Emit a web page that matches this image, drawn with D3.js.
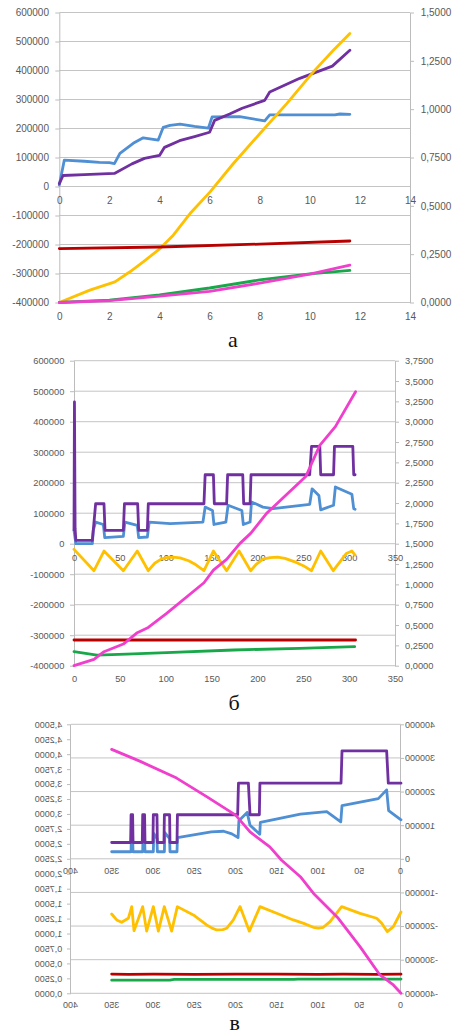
<!DOCTYPE html>
<html lang="ru">
<head>
<meta charset="utf-8">
<title>Три графика а, б, в</title>
<script src="https://d3js.org/d3.v7.min.js"></script>
<style>
  body { margin: 0; background: #fff; }
  svg { display: block; }
</style>
</head>
<body>
<div id="chart"></div>
<script>

/* Data */
/* ==== */

// panel а : x 0..14, left axis -400000..600000, right axis 0..1,5
const aXTicks = [0, 2, 4, 6, 8, 10, 12, 14];
const aLeftTicks = [-400000, -300000, -200000, -100000, 0, 100000, 200000, 300000, 400000, 500000, 600000];
const aRightTicks = [0, 0.25, 0.5, 0.75, 1, 1.25, 1.5];

const aBlue = [[0,5000],[0.2,91000],[1,87000],[1.6,83000],[2,82000],[2.2,79000],[2.42,114000],[2.95,149000],[3.35,168000],[3.95,160000],
  [4.15,204000],[4.42,211000],[4.82,215000],[5.4,207000],[5.95,201000],[6.1,240000],[7.2,241000],[8.2,226000],[8.4,247000],
  [11,247000],[11.2,250000],[11.6,249000]];
const aPurple = [[0,10000],[0.15,38000],[1,41000],[2.2,45000],[2.9,78000],[3.4,97000],[4,107000],[4.2,135000],[4.8,158000],
  [5.4,172000],[6,187000],[6.2,228000],[6.8,250000],[7.3,270000],[8.2,297000],[8.4,326000],[9.6,373000],[10.9,415000],[11.6,470000]];
const aYellow = [[0,0],[1.22,0.064],[2.22,0.107],[2.82,0.159],[3.35,0.21],[4.02,0.279],[4.55,0.348],[5.22,0.46],[6.02,0.572],
  [6.95,0.719],[8.01,0.874],[9.08,1.029],[10.14,1.193],[10.94,1.305],[11.6,1.391]];
const aRed = [[0,0.279],[4,0.287],[8,0.302],[11.6,0.318]];
const aGreen = [[0,0],[2,0.012],[4,0.04],[6,0.075],[8,0.117],[10,0.148],[11.6,0.166]];
const aMagenta = [[0,0],[2,0.01],[4,0.033],[6,0.058],[8,0.1],[10,0.147],[11.6,0.193]];

// panel б : x 0..350, left axis -400000..600000, right axis 0..3,75
const bXTicks = [0, 50, 100, 150, 200, 250, 300, 350];
const bLeftTicks = [-400000, -300000, -200000, -100000, 0, 100000, 200000, 300000, 400000, 500000, 600000];
const bRightTicks = [0, 0.25, 0.5, 0.75, 1, 1.25, 1.5, 1.75, 2, 2.25, 2.5, 2.75, 3, 3.25, 3.5, 3.75];

const bBlue = [[0,44000],[1.5,11000],[2,0],[20,0],[21,44000],[23.6,71000],[32,63000],[33.5,20000],[53.8,24000],[55.5,71000],
  [69,60000],[70.5,20000],[80,22000],[82,71000],[105,66000],[140.6,71000],[143,120000],[151,109000],[152.6,63000],[165.6,71000],
  [168,126000],[183,109000],[184.6,63000],[192,71000],[193.5,137000],[206,120000],[217,115000],[257,129000],[259.6,180000],
  [267,158000],[269,111000],[283,126000],[285,186000],[303,162000],[305,115000],[306.5,113000]];
const bPurple = [[0,45000],[0.5,465000],[1.2,50000],[2,11000],[20,11000],[21,44000],[23.6,131000],[32.7,131000],[33.8,44000],
  [53.8,44000],[55,131000],[69.4,131000],[70.5,44000],[80,44000],[81,131000],[141.7,131000],[143,226000],[152,226000],
  [153,131000],[166.4,131000],[167.5,226000],[184,226000],[185,131000],[192,131000],[193,226000],[257,226000],[259,319000],
  [268,319000],[269,226000],[283,226000],[284,319000],[304,319000],[305,226000],[306.5,226000]];
const bYellow = [[0,1.43],[21.8,1.168],[32.7,1.41],[53.8,1.168],[69,1.41],[81,1.168],[88,1.26],[95,1.31],[101,1.33],[108,1.335],
  [115.6,1.325],[125,1.29],[133,1.24],[141.7,1.168],[152,1.41],[166.4,1.168],[180,1.41],[192.6,1.168],[199,1.25],[206,1.31],
  [213.7,1.33],[222,1.335],[230,1.32],[240,1.28],[250,1.23],[259,1.168],[269,1.41],[282.7,1.168],[297,1.38],[303,1.41],[306.5,1.36]];
const bRed = [[0,0.316],[307,0.316]];
const bGreen = [[0,0.172],[25,0.131],[57,0.143],[101,0.16],[174,0.193],[246,0.213],[306,0.234]];
const bMagenta = [[0,0],[21.8,0.078],[32.7,0.172],[53.8,0.266],[69,0.406],[81,0.471],[101,0.643],[141.7,1.02],[152,1.176],
  [166.4,1.307],[181,1.504],[192.6,1.627],[210,1.873],[253,2.33],[268,2.71],[285,2.94],[307,3.369]];

// panel в : x 0..400, left axis -400000..400000, right axis 0..4,5 (picture is mirrored)
const vXTicks = [0, 50, 100, 150, 200, 250, 300, 350, 400];
const vLeftTicks = [-400000, -300000, -200000, -100000, 0, 100000, 200000, 300000, 400000];
const vRightTicks = [0, 0.25, 0.5, 0.75, 1, 1.25, 1.5, 1.75, 2, 2.25, 2.5, 2.75, 3, 3.25, 3.5, 3.75, 4, 4.25, 4.5];

const vBlue = [[0,116000],[15,143000],[17.4,205000],[27.5,179000],[71.5,158000],[73,110000],[90,140000],[122,133000],
  [170.5,108000],[171.2,73000],[183,100000],[186.5,138000],[196.5,113000],[197.5,63000],[205,74000],[215,82000],[230,80000],
  [271,63000],[271.5,21000],[280,21000],[280.5,60000],[286.3,78000],[286.8,21000],[295.3,21000],[295.8,60000],[299.7,75000],
  [300.2,21000],[310.3,21000],[310.8,60000],[312.6,80000],[313.1,21000],[324.8,21000],[325.3,60000],[326.7,85000],
  [327.2,21000],[350.7,21000]];
const vPurple = [[0,225000],[15.4,225000],[17.4,321000],[71.5,321000],[72.7,225000],[171,225000],[171.7,131000],[183,131000],
  [185,225000],[197,225000],[198,131000],[271,131000],[271.5,48500],[280,48500],[280.5,131000],[286.8,131000],[287.3,48500],
  [295.3,48500],[295.8,131000],[300.2,131000],[300.7,48500],[310.3,48500],[310.8,131000],[313.1,131000],[313.6,48500],
  [324.8,48500],[325.3,131000],[327.2,131000],[327.7,48500],[350.7,48500]];
const vYellow = [[0,1.36],[9.3,1.115],[16.6,1.031],[23.4,1.171],[29.5,1.255],[49.7,1.338],[71.9,1.45],[86,1.199],[94.1,1.104],
  [100,1.09],[106.3,1.104],[118,1.17],[130.5,1.227],[150.7,1.338],[170.9,1.45],[183.8,1.04],[195.1,1.45],[203.2,1.227],
  [211.3,1.088],[216,1.065],[223.4,1.06],[229,1.09],[235.6,1.143],[251.7,1.311],[271.1,1.45],[278,1.04],[286.9,1.45],
  [294.1,1.04],[300.2,1.45],[308.3,1.04],[313.1,1.45],[323.6,1.048],[326.4,1.45],[330.5,1.255],[338.6,1.188],[344.6,1.227],
  [350.7,1.327]];
const vRed = [[0,0.32],[30,0.318],[70,0.322],[100,0.316],[150,0.32],[200,0.322],[250,0.316],[300,0.322],[330,0.318],[350.7,0.322]];
const vGreen = [[0,0.238],[125,0.238],[130,0.232],[275,0.232],[280,0.22],[350.7,0.22]];
const vMagenta = [[0,0],[9.3,0.139],[25.5,0.307],[49.7,0.78],[76,1.255],[106,1.67],[122,1.95],[145,2.23],[159,2.45],[183,2.7],
  [200.4,2.98],[235.6,3.29],[272,3.6],[316,3.88],[350.7,4.08]];


/* Setup */
/* ===== */

var width = 454,
    height = 1036;

var colors = {
  blue: '#4f8fd4',
  purple: '#7030a0',
  yellow: '#ffc000',
  red: '#b80000',
  green: '#18a84a',
  magenta: '#f03fcc'
};

var locale = d3.formatLocale({ decimal: ',', thousands: '', grouping: [3], currency: ['', ''], minus: '-' });
var fmtInt = locale.format('d'),
    fmtDec = locale.format('.4f');

var svg = d3.select('#chart').append('svg')
    .attr('width', width)
    .attr('height', height);

// Layout of each panel (pixel positions live here, not in the data)
var panels = [
  { x0: 59.3, x1: 410, top: 12.5, bottom: 302.5, xMax: 14, left: [-400000, 600000], right: [0, 1.5],
    xTicks: aXTicks, leftTicks: aLeftTicks, rightTicks: aRightTicks,
    tickL: 4, gapL: 10.3, gapR: 10.7, padMid: 10, padBot: 10, font: 10,
    series: [[aBlue, 'L', 'blue'], [aPurple, 'L', 'purple'], [aYellow, 'R', 'yellow'],
             [aRed, 'R', 'red'], [aGreen, 'R', 'green'], [aMagenta, 'R', 'magenta']],
    letter: 'а', letterX: 233, letterY: 347 },
  { x0: 74, x1: 395, top: 360.7, bottom: 665.7, xMax: 350, left: [-400000, 600000], right: [0, 3.75],
    xTicks: bXTicks, leftTicks: bLeftTicks, rightTicks: bRightTicks,
    tickL: 4, gapL: 9.7, gapR: 10, padMid: 10.5, padBot: 10, font: 9.3,
    series: [[bBlue, 'L', 'blue'], [bPurple, 'L', 'purple'], [bYellow, 'R', 'yellow'],
             [bRed, 'R', 'red'], [bGreen, 'R', 'green'], [bMagenta, 'R', 'magenta']],
    letter: 'б', letterX: 234, letterY: 710 },
  { x0: 71, x1: 401, top: 724.3, bottom: 993.3, xMax: 400, left: [-400000, 400000], right: [0, 4.5],
    xTicks: vXTicks, leftTicks: vLeftTicks, rightTicks: vRightTicks,
    tickL: 3, gapL: 4, gapR: 8.7, padMid: 8.7, padBot: 8.2, font: 9,
    mirror: 472,
    series: [[vBlue, 'L', 'blue'], [vPurple, 'L', 'purple'], [vYellow, 'R', 'yellow'],
             [vRed, 'R', 'red'], [vGreen, 'R', 'green'], [vMagenta, 'R', 'magenta']],
    letter: 'в', letterX: 234.7, letterY: 1030 }
];


/* Drawing */
/* ======= */

function styleAxis(sel, p) {
  sel.attr('font-family', "'Liberation Sans', Arial, sans-serif")
     .attr('font-size', p.font);
  sel.selectAll('path.domain').attr('stroke', '#bcbcbc');
  sel.selectAll('.tick line').attr('stroke', '#bcbcbc');
  sel.selectAll('.tick text').attr('fill', '#595959');
}

function drawPanel(p) {

  var g = svg.append('g');
  if (p.mirror) g.attr('transform', 'translate(' + p.mirror + ',0) scale(-1,1)');

  var x = d3.scaleLinear().domain([0, p.xMax]).range([p.x0, p.x1]);
  var yL = d3.scaleLinear().domain(p.left).range([p.bottom, p.top]);
  var yR = d3.scaleLinear().domain(p.right).range([p.bottom, p.top]);

  // Grid (from the left value axis)
  g.append('g').selectAll('line')
    .data(p.leftTicks)
    .join('line')
    .attr('x1', p.x0).attr('x2', p.x1)
    .attr('y1', d => yL(d)).attr('y2', d => yL(d))
    .attr('stroke', '#c4c4c4')
    .attr('stroke-width', 1);

  // Left value axis
  g.append('g')
    .attr('transform', 'translate(' + p.x0 + ',0)')
    .call(d3.axisLeft(yL).tickValues(p.leftTicks).tickSize(p.tickL)
      .tickPadding(p.gapL - p.tickL).tickSizeOuter(0).tickFormat(fmtInt))
    .call(styleAxis, p);

  // Right value axis
  g.append('g')
    .attr('transform', 'translate(' + p.x1 + ',0)')
    .call(d3.axisRight(yR).tickValues(p.rightTicks).tickSize(4)
      .tickPadding(p.gapR - 4).tickSizeOuter(0).tickFormat(fmtDec))
    .call(styleAxis, p);

  // Two category axes: one on the zero line, one at the bottom
  [[yL(0), p.padMid], [p.bottom, p.padBot]].forEach(function(a) {
    g.append('g')
      .attr('transform', 'translate(0,' + a[0] + ')')
      .call(d3.axisBottom(x).tickValues(p.xTicks).tickSize(0)
        .tickPadding(a[1]).tickSizeOuter(0).tickFormat(fmtInt))
      .call(styleAxis, p)
      .call(s => s.select('path.domain').remove());
  });

  // Series
  p.series.forEach(function(s) {
    var y = s[1] === 'L' ? yL : yR;
    var line = d3.line()
      .x(d => x(d[0]))
      .y(d => y(d[1]));
    g.append('path')
      .datum(s[0])
      .attr('d', line)
      .attr('fill', 'none')
      .attr('stroke', colors[s[2]])
      .attr('stroke-width', 2.8)
      .attr('stroke-linejoin', 'round')
      .attr('stroke-linecap', 'round');
  });

  // Panel letter
  svg.append('text')
    .attr('x', p.letterX)
    .attr('y', p.letterY)
    .attr('text-anchor', 'middle')
    .attr('font-family', "'Liberation Serif', 'Times New Roman', serif")
    .attr('font-size', 22)
    .attr('fill', '#111')
    .text(p.letter);

} // drawPanel()

panels.forEach(drawPanel);

</script>
</body>
</html>
